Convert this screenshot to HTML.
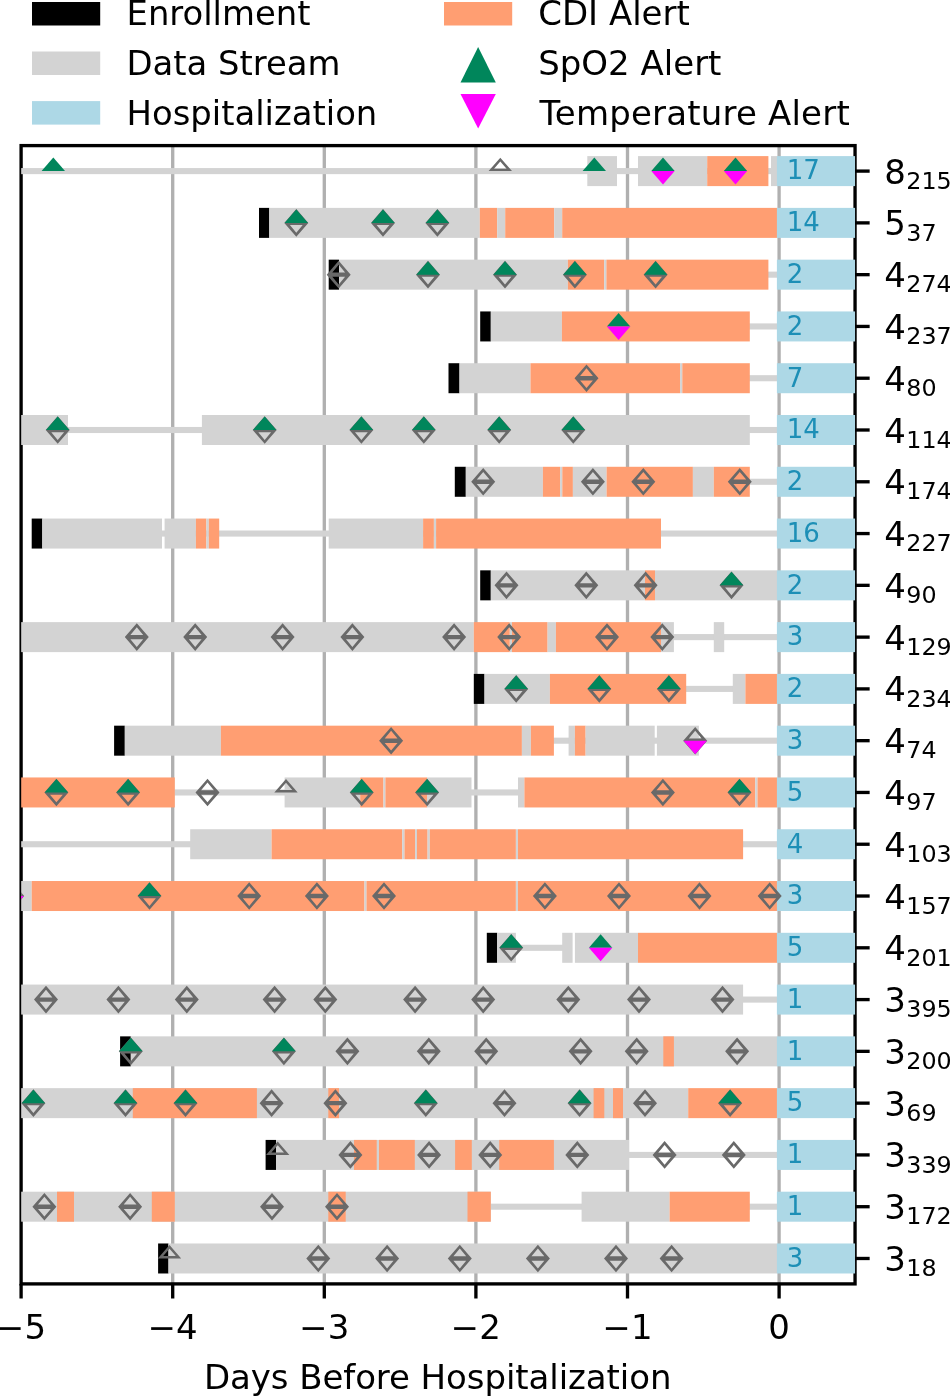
<!DOCTYPE html>
<html lang="en"><head><meta charset="utf-8"><title>Days Before Hospitalization</title>
<style>html,body{margin:0;padding:0;background:#fff}svg{display:block}text{font-family:"DejaVu Sans","Liberation Sans",sans-serif;fill:#000}</style>
</head><body>
<svg width="950" height="1396" viewBox="0 0 950 1396">
<rect width="950" height="1396" fill="#fff"/>
<defs>
<clipPath id="ax"><rect x="21.1" y="145.6" width="833.95" height="1138.3"/></clipPath>
<path id="mD" fill="#696969" fill-rule="evenodd" d="M-12 0L0 -13.8L12 0L0 13.8ZM-6.4 -2.2L0 -9.9L6.4 -2.2ZM-6.4 2.2L0 9.9L6.4 2.2Z"/>
<path id="mH" fill="#696969" fill-rule="evenodd" d="M-11.7 0L0 -13.4L11.7 0ZM-6.3 -2.4L0 -9.7L6.3 -2.4Z"/>
<path id="mG" fill="#00865b" d="M-11.7 0L0 -13.5L11.7 0Z"/>
<path id="mM" fill="#ff00ff" d="M-11.7 0L0 13.5L11.7 0Z"/>
</defs>
<g stroke="#b0b0b0" stroke-width="3.33">
<line x1="172.7" y1="145.6" x2="172.7" y2="1283.9"/>
<line x1="324.3" y1="145.6" x2="324.3" y2="1283.9"/>
<line x1="475.9" y1="145.6" x2="475.9" y2="1283.9"/>
<line x1="627.5" y1="145.6" x2="627.5" y2="1283.9"/>
<line x1="779.1" y1="145.6" x2="779.1" y2="1283.9"/>
</g>
<rect x="21.1" y="145.6" width="833.95" height="1138.3" fill="none" stroke="#000" stroke-width="3.33"/>
<g clip-path="url(#ax)">
<g>
<rect x="21.1" y="168.05" width="755.9" height="6.1" fill="#d3d3d3"/>
<rect x="587.3" y="156.1" width="29.7" height="30" fill="#d3d3d3"/>
<rect x="638" y="156.1" width="69.2" height="30" fill="#d3d3d3"/>
<rect x="707.2" y="156.1" width="61.2" height="30" fill="#ff9e72"/>
<rect x="771" y="156.1" width="6" height="30" fill="#d3d3d3"/>
<rect x="776.9" y="156.1" width="79.1" height="30" fill="#add8e6"/>
</g>
<g>
<rect x="259" y="207.88" width="10.3" height="30" fill="#000000"/>
<rect x="269.3" y="207.88" width="210.5" height="30" fill="#d3d3d3"/>
<rect x="479.8" y="207.88" width="17.4" height="30" fill="#ff9e72"/>
<rect x="497.2" y="207.88" width="8" height="30" fill="#d3d3d3"/>
<rect x="505.2" y="207.88" width="49" height="30" fill="#ff9e72"/>
<rect x="554.2" y="207.88" width="8" height="30" fill="#d3d3d3"/>
<rect x="562.2" y="207.88" width="214.8" height="30" fill="#ff9e72"/>
<rect x="776.9" y="207.88" width="79.1" height="30" fill="#add8e6"/>
</g>
<g>
<rect x="760" y="271.61" width="17" height="6.1" fill="#d3d3d3"/>
<rect x="328.7" y="259.66" width="10.3" height="30" fill="#000000"/>
<rect x="339" y="259.66" width="228.9" height="30" fill="#d3d3d3"/>
<rect x="567.9" y="259.66" width="36.3" height="30" fill="#ff9e72"/>
<rect x="604.2" y="259.66" width="2.2" height="30" fill="#d3d3d3"/>
<rect x="606.4" y="259.66" width="162" height="30" fill="#ff9e72"/>
<rect x="776.9" y="259.66" width="79.1" height="30" fill="#add8e6"/>
</g>
<g>
<rect x="740" y="323.39" width="37" height="6.1" fill="#d3d3d3"/>
<rect x="480.2" y="311.44" width="10.6" height="30" fill="#000000"/>
<rect x="490.8" y="311.44" width="71.1" height="30" fill="#d3d3d3"/>
<rect x="561.9" y="311.44" width="187.9" height="30" fill="#ff9e72"/>
<rect x="776.9" y="311.44" width="79.1" height="30" fill="#add8e6"/>
</g>
<g>
<rect x="740" y="375.17" width="37" height="6.1" fill="#d3d3d3"/>
<rect x="448.5" y="363.22" width="11" height="30" fill="#000000"/>
<rect x="459.5" y="363.22" width="71" height="30" fill="#d3d3d3"/>
<rect x="530.5" y="363.22" width="149.6" height="30" fill="#ff9e72"/>
<rect x="680.1" y="363.22" width="2.2" height="30" fill="#d3d3d3"/>
<rect x="682.3" y="363.22" width="67.5" height="30" fill="#ff9e72"/>
<rect x="776.9" y="363.22" width="79.1" height="30" fill="#add8e6"/>
</g>
<g>
<rect x="60" y="426.95" width="150" height="6.1" fill="#d3d3d3"/>
<rect x="740" y="426.95" width="37" height="6.1" fill="#d3d3d3"/>
<rect x="21.1" y="415" width="46.9" height="30" fill="#d3d3d3"/>
<rect x="201.9" y="415" width="547.9" height="30" fill="#d3d3d3"/>
<rect x="776.9" y="415" width="79.1" height="30" fill="#add8e6"/>
</g>
<g>
<rect x="740" y="478.73" width="37" height="6.1" fill="#d3d3d3"/>
<rect x="454.8" y="466.78" width="11" height="30" fill="#000000"/>
<rect x="465.8" y="466.78" width="77.1" height="30" fill="#d3d3d3"/>
<rect x="542.9" y="466.78" width="17.2" height="30" fill="#ff9e72"/>
<rect x="560.1" y="466.78" width="2.2" height="30" fill="#d3d3d3"/>
<rect x="562.3" y="466.78" width="10.6" height="30" fill="#ff9e72"/>
<rect x="572.9" y="466.78" width="33.7" height="30" fill="#d3d3d3"/>
<rect x="606.6" y="466.78" width="86.3" height="30" fill="#ff9e72"/>
<rect x="692.9" y="466.78" width="20.9" height="30" fill="#d3d3d3"/>
<rect x="713.8" y="466.78" width="36" height="30" fill="#ff9e72"/>
<rect x="776.9" y="466.78" width="79.1" height="30" fill="#add8e6"/>
</g>
<g>
<rect x="100" y="530.51" width="677" height="6.1" fill="#d3d3d3"/>
<rect x="31.7" y="518.56" width="10.6" height="30" fill="#000000"/>
<rect x="42.3" y="518.56" width="119.7" height="30" fill="#d3d3d3"/>
<rect x="164.6" y="518.56" width="31.3" height="30" fill="#d3d3d3"/>
<rect x="195.9" y="518.56" width="10.5" height="30" fill="#ff9e72"/>
<rect x="206.4" y="518.56" width="2.4" height="30" fill="#d3d3d3"/>
<rect x="208.8" y="518.56" width="10.4" height="30" fill="#ff9e72"/>
<rect x="328.7" y="518.56" width="94.4" height="30" fill="#d3d3d3"/>
<rect x="423.1" y="518.56" width="10.8" height="30" fill="#ff9e72"/>
<rect x="433.9" y="518.56" width="2.2" height="30" fill="#d3d3d3"/>
<rect x="436.1" y="518.56" width="224.9" height="30" fill="#ff9e72"/>
<rect x="776.9" y="518.56" width="79.1" height="30" fill="#add8e6"/>
</g>
<g>
<rect x="480.2" y="570.34" width="10.6" height="30" fill="#000000"/>
<rect x="490.8" y="570.34" width="154.2" height="30" fill="#d3d3d3"/>
<rect x="645" y="570.34" width="10" height="30" fill="#ff9e72"/>
<rect x="655" y="570.34" width="122" height="30" fill="#d3d3d3"/>
<rect x="776.9" y="570.34" width="79.1" height="30" fill="#add8e6"/>
</g>
<g>
<rect x="660" y="634.07" width="117" height="6.1" fill="#d3d3d3"/>
<rect x="21.1" y="622.12" width="452.7" height="30" fill="#d3d3d3"/>
<rect x="473.8" y="622.12" width="36" height="30" fill="#ff9e72"/>
<rect x="509.8" y="622.12" width="2.2" height="30" fill="#d3d3d3"/>
<rect x="512" y="622.12" width="35.6" height="30" fill="#ff9e72"/>
<rect x="547.6" y="622.12" width="8.3" height="30" fill="#d3d3d3"/>
<rect x="555.9" y="622.12" width="105.1" height="30" fill="#ff9e72"/>
<rect x="661" y="622.12" width="12.9" height="30" fill="#d3d3d3"/>
<rect x="713.8" y="622.12" width="10.4" height="30" fill="#d3d3d3"/>
<rect x="776.9" y="622.12" width="79.1" height="30" fill="#add8e6"/>
</g>
<g>
<rect x="680" y="685.85" width="60" height="6.1" fill="#d3d3d3"/>
<rect x="473.8" y="673.9" width="10.7" height="30" fill="#000000"/>
<rect x="484.5" y="673.9" width="65.4" height="30" fill="#d3d3d3"/>
<rect x="549.9" y="673.9" width="136.3" height="30" fill="#ff9e72"/>
<rect x="732.8" y="673.9" width="12.6" height="30" fill="#d3d3d3"/>
<rect x="745.4" y="673.9" width="31.6" height="30" fill="#ff9e72"/>
<rect x="776.9" y="673.9" width="79.1" height="30" fill="#add8e6"/>
</g>
<g>
<rect x="550" y="737.63" width="227" height="6.1" fill="#d3d3d3"/>
<rect x="114.1" y="725.68" width="10.7" height="30" fill="#000000"/>
<rect x="124.8" y="725.68" width="96.1" height="30" fill="#d3d3d3"/>
<rect x="220.9" y="725.68" width="301" height="30" fill="#ff9e72"/>
<rect x="521.9" y="725.68" width="9" height="30" fill="#d3d3d3"/>
<rect x="530.9" y="725.68" width="23" height="30" fill="#ff9e72"/>
<rect x="568.6" y="725.68" width="6.3" height="30" fill="#d3d3d3"/>
<rect x="574.9" y="725.68" width="10.7" height="30" fill="#ff9e72"/>
<rect x="585.6" y="725.68" width="69.1" height="30" fill="#d3d3d3"/>
<rect x="656.9" y="725.68" width="42" height="30" fill="#d3d3d3"/>
<rect x="776.9" y="725.68" width="79.1" height="30" fill="#add8e6"/>
</g>
<g>
<rect x="170" y="789.41" width="120" height="6.1" fill="#d3d3d3"/>
<rect x="465" y="789.41" width="55" height="6.1" fill="#d3d3d3"/>
<rect x="21.1" y="777.46" width="153.7" height="30" fill="#ff9e72"/>
<rect x="284.6" y="777.46" width="75.6" height="30" fill="#d3d3d3"/>
<rect x="360.2" y="777.46" width="23.3" height="30" fill="#ff9e72"/>
<rect x="383.5" y="777.46" width="1.9" height="30" fill="#d3d3d3"/>
<rect x="385.4" y="777.46" width="41.6" height="30" fill="#ff9e72"/>
<rect x="427" y="777.46" width="44.5" height="30" fill="#d3d3d3"/>
<rect x="518" y="777.46" width="6.4" height="30" fill="#d3d3d3"/>
<rect x="524.4" y="777.46" width="230.9" height="30" fill="#ff9e72"/>
<rect x="755.3" y="777.46" width="2.2" height="30" fill="#d3d3d3"/>
<rect x="757.5" y="777.46" width="19.5" height="30" fill="#ff9e72"/>
<rect x="776.9" y="777.46" width="79.1" height="30" fill="#add8e6"/>
</g>
<g>
<rect x="21.1" y="841.19" width="178.9" height="6.1" fill="#d3d3d3"/>
<rect x="740" y="841.19" width="37" height="6.1" fill="#d3d3d3"/>
<rect x="190.2" y="829.24" width="81.4" height="30" fill="#d3d3d3"/>
<rect x="271.6" y="829.24" width="130.6" height="30" fill="#ff9e72"/>
<rect x="402.2" y="829.24" width="2.3" height="30" fill="#d3d3d3"/>
<rect x="404.5" y="829.24" width="10.6" height="30" fill="#ff9e72"/>
<rect x="415.1" y="829.24" width="1.9" height="30" fill="#d3d3d3"/>
<rect x="417" y="829.24" width="10.6" height="30" fill="#ff9e72"/>
<rect x="427.6" y="829.24" width="2.2" height="30" fill="#d3d3d3"/>
<rect x="429.8" y="829.24" width="86.1" height="30" fill="#ff9e72"/>
<rect x="515.9" y="829.24" width="2.1" height="30" fill="#d3d3d3"/>
<rect x="518" y="829.24" width="225.1" height="30" fill="#ff9e72"/>
<rect x="776.9" y="829.24" width="79.1" height="30" fill="#add8e6"/>
</g>
<g>
<rect x="21.1" y="881.02" width="10.6" height="30" fill="#d3d3d3"/>
<rect x="31.7" y="881.02" width="332.8" height="30" fill="#ff9e72"/>
<rect x="364.5" y="881.02" width="2" height="30" fill="#d3d3d3"/>
<rect x="366.5" y="881.02" width="149.4" height="30" fill="#ff9e72"/>
<rect x="515.9" y="881.02" width="2.1" height="30" fill="#d3d3d3"/>
<rect x="518" y="881.02" width="259" height="30" fill="#ff9e72"/>
<rect x="776.9" y="881.02" width="79.1" height="30" fill="#add8e6"/>
</g>
<g>
<rect x="510" y="944.75" width="60" height="6.1" fill="#d3d3d3"/>
<rect x="486.8" y="932.8" width="10.4" height="30" fill="#000000"/>
<rect x="497.2" y="932.8" width="18.7" height="30" fill="#d3d3d3"/>
<rect x="562.2" y="932.8" width="10.4" height="30" fill="#d3d3d3"/>
<rect x="574.9" y="932.8" width="63.1" height="30" fill="#d3d3d3"/>
<rect x="638" y="932.8" width="139" height="30" fill="#ff9e72"/>
<rect x="776.9" y="932.8" width="79.1" height="30" fill="#add8e6"/>
</g>
<g>
<rect x="740" y="996.53" width="37" height="6.1" fill="#d3d3d3"/>
<rect x="21.1" y="984.58" width="722" height="30" fill="#d3d3d3"/>
<rect x="776.9" y="984.58" width="79.1" height="30" fill="#add8e6"/>
</g>
<g>
<rect x="120.1" y="1036.36" width="10.7" height="30" fill="#000000"/>
<rect x="130.8" y="1036.36" width="646.2" height="30" fill="#d3d3d3"/>
<rect x="663.3" y="1036.36" width="10.6" height="30" fill="#ff9e72"/>
<rect x="776.9" y="1036.36" width="79.1" height="30" fill="#add8e6"/>
</g>
<g>
<rect x="21.1" y="1088.14" width="667.1" height="30" fill="#d3d3d3"/>
<rect x="132.8" y="1088.14" width="124.1" height="30" fill="#ff9e72"/>
<rect x="328.3" y="1088.14" width="10.7" height="30" fill="#ff9e72"/>
<rect x="593.6" y="1088.14" width="10.7" height="30" fill="#ff9e72"/>
<rect x="613" y="1088.14" width="10" height="30" fill="#ff9e72"/>
<rect x="688.2" y="1088.14" width="88.8" height="30" fill="#ff9e72"/>
<rect x="776.9" y="1088.14" width="79.1" height="30" fill="#add8e6"/>
</g>
<g>
<rect x="620" y="1151.87" width="157" height="6.1" fill="#d3d3d3"/>
<rect x="265.6" y="1139.92" width="10.4" height="30" fill="#000000"/>
<rect x="276" y="1139.92" width="353" height="30" fill="#d3d3d3"/>
<rect x="354" y="1139.92" width="22.7" height="30" fill="#ff9e72"/>
<rect x="379" y="1139.92" width="35.8" height="30" fill="#ff9e72"/>
<rect x="455.1" y="1139.92" width="16.7" height="30" fill="#ff9e72"/>
<rect x="499.2" y="1139.92" width="54.7" height="30" fill="#ff9e72"/>
<rect x="776.9" y="1139.92" width="79.1" height="30" fill="#add8e6"/>
</g>
<g>
<rect x="485" y="1203.65" width="105" height="6.1" fill="#d3d3d3"/>
<rect x="740" y="1203.65" width="37" height="6.1" fill="#d3d3d3"/>
<rect x="21.1" y="1191.7" width="469.7" height="30" fill="#d3d3d3"/>
<rect x="57" y="1191.7" width="17" height="30" fill="#ff9e72"/>
<rect x="151.8" y="1191.7" width="23" height="30" fill="#ff9e72"/>
<rect x="328.3" y="1191.7" width="17.4" height="30" fill="#ff9e72"/>
<rect x="467.5" y="1191.7" width="23.3" height="30" fill="#ff9e72"/>
<rect x="581.6" y="1191.7" width="88" height="30" fill="#d3d3d3"/>
<rect x="669.6" y="1191.7" width="80.2" height="30" fill="#ff9e72"/>
<rect x="776.9" y="1191.7" width="79.1" height="30" fill="#add8e6"/>
</g>
<g>
<rect x="158.1" y="1243.48" width="10.4" height="30" fill="#000000"/>
<rect x="168.5" y="1243.48" width="608.5" height="30" fill="#d3d3d3"/>
<rect x="776.9" y="1243.48" width="79.1" height="30" fill="#add8e6"/>
</g>
<use href="#mG" x="53.3" y="171.1"/>
<use href="#mH" x="500.3" y="171.1"/>
<use href="#mG" x="594.3" y="171.1"/>
<use href="#mG" x="663" y="171.1"/>
<use href="#mM" x="663" y="171.1"/>
<use href="#mG" x="735.5" y="171.1"/>
<use href="#mM" x="735.5" y="171.1"/>
<use href="#mD" x="296.3" y="222.88"/>
<use href="#mG" x="296.3" y="222.88"/>
<use href="#mD" x="383" y="222.88"/>
<use href="#mG" x="383" y="222.88"/>
<use href="#mD" x="437.4" y="222.88"/>
<use href="#mG" x="437.4" y="222.88"/>
<use href="#mD" x="338.7" y="274.66"/>
<use href="#mD" x="428" y="274.66"/>
<use href="#mG" x="428" y="274.66"/>
<use href="#mD" x="505" y="274.66"/>
<use href="#mG" x="505" y="274.66"/>
<use href="#mD" x="574.9" y="274.66"/>
<use href="#mG" x="574.9" y="274.66"/>
<use href="#mD" x="655.6" y="274.66"/>
<use href="#mG" x="655.6" y="274.66"/>
<use href="#mG" x="618.6" y="326.44"/>
<use href="#mM" x="618.6" y="326.44"/>
<use href="#mD" x="586.5" y="378.22"/>
<use href="#mD" x="57.7" y="430"/>
<use href="#mG" x="57.7" y="430"/>
<use href="#mD" x="264.7" y="430"/>
<use href="#mG" x="264.7" y="430"/>
<use href="#mD" x="361.4" y="430"/>
<use href="#mG" x="361.4" y="430"/>
<use href="#mD" x="423.8" y="430"/>
<use href="#mG" x="423.8" y="430"/>
<use href="#mD" x="499.2" y="430"/>
<use href="#mG" x="499.2" y="430"/>
<use href="#mD" x="573.3" y="430"/>
<use href="#mG" x="573.3" y="430"/>
<use href="#mD" x="483.2" y="481.78"/>
<use href="#mD" x="592.9" y="481.78"/>
<use href="#mD" x="643.3" y="481.78"/>
<use href="#mD" x="739.8" y="481.78"/>
<use href="#mD" x="506.5" y="585.34"/>
<use href="#mD" x="586.3" y="585.34"/>
<use href="#mD" x="645.6" y="585.34"/>
<use href="#mD" x="731.5" y="585.34"/>
<use href="#mG" x="731.5" y="585.34"/>
<use href="#mD" x="136.8" y="637.12"/>
<use href="#mD" x="195.2" y="637.12"/>
<use href="#mD" x="282.6" y="637.12"/>
<use href="#mD" x="352.4" y="637.12"/>
<use href="#mD" x="454.1" y="637.12"/>
<use href="#mD" x="509.2" y="637.12"/>
<use href="#mD" x="607" y="637.12"/>
<use href="#mD" x="662.3" y="637.12"/>
<use href="#mD" x="516.2" y="688.9"/>
<use href="#mG" x="516.2" y="688.9"/>
<use href="#mD" x="599.3" y="688.9"/>
<use href="#mG" x="599.3" y="688.9"/>
<use href="#mD" x="668.9" y="688.9"/>
<use href="#mG" x="668.9" y="688.9"/>
<use href="#mD" x="391.1" y="740.68"/>
<use href="#mD" x="695.2" y="740.68"/>
<use href="#mM" x="695.2" y="740.68"/>
<use href="#mD" x="56.4" y="792.46"/>
<use href="#mG" x="56.4" y="792.46"/>
<use href="#mD" x="128.1" y="792.46"/>
<use href="#mG" x="128.1" y="792.46"/>
<use href="#mD" x="207.5" y="792.46"/>
<use href="#mH" x="286" y="792.46"/>
<use href="#mD" x="361.7" y="792.46"/>
<use href="#mG" x="361.7" y="792.46"/>
<use href="#mD" x="427.1" y="792.46"/>
<use href="#mG" x="427.1" y="792.46"/>
<use href="#mD" x="662.9" y="792.46"/>
<use href="#mD" x="739.5" y="792.46"/>
<use href="#mG" x="739.5" y="792.46"/>
<use href="#mD" x="12.2" y="896.02"/>
<use href="#mM" x="12.2" y="896.02"/>
<use href="#mD" x="149.5" y="896.02"/>
<use href="#mG" x="149.5" y="896.02"/>
<use href="#mD" x="249.2" y="896.02"/>
<use href="#mD" x="316.9" y="896.02"/>
<use href="#mD" x="384" y="896.02"/>
<use href="#mD" x="544.9" y="896.02"/>
<use href="#mD" x="619" y="896.02"/>
<use href="#mD" x="699.5" y="896.02"/>
<use href="#mD" x="769.7" y="896.02"/>
<use href="#mD" x="511.2" y="947.8"/>
<use href="#mG" x="511.2" y="947.8"/>
<use href="#mG" x="600.6" y="947.8"/>
<use href="#mM" x="600.6" y="947.8"/>
<use href="#mD" x="46" y="999.58"/>
<use href="#mD" x="118.4" y="999.58"/>
<use href="#mD" x="186.8" y="999.58"/>
<use href="#mD" x="274.6" y="999.58"/>
<use href="#mD" x="325.3" y="999.58"/>
<use href="#mD" x="415.1" y="999.58"/>
<use href="#mD" x="483.2" y="999.58"/>
<use href="#mD" x="568.3" y="999.58"/>
<use href="#mD" x="639" y="999.58"/>
<use href="#mD" x="722.5" y="999.58"/>
<use href="#mD" x="130.8" y="1051.36"/>
<use href="#mG" x="130.8" y="1051.36"/>
<use href="#mD" x="283.9" y="1051.36"/>
<use href="#mG" x="283.9" y="1051.36"/>
<use href="#mD" x="347.4" y="1051.36"/>
<use href="#mD" x="428.8" y="1051.36"/>
<use href="#mD" x="486.2" y="1051.36"/>
<use href="#mD" x="580.6" y="1051.36"/>
<use href="#mD" x="636.7" y="1051.36"/>
<use href="#mD" x="737.1" y="1051.36"/>
<use href="#mD" x="33.4" y="1103.14"/>
<use href="#mG" x="33.4" y="1103.14"/>
<use href="#mD" x="125.5" y="1103.14"/>
<use href="#mG" x="125.5" y="1103.14"/>
<use href="#mD" x="185.5" y="1103.14"/>
<use href="#mG" x="185.5" y="1103.14"/>
<use href="#mD" x="271.6" y="1103.14"/>
<use href="#mD" x="335.4" y="1103.14"/>
<use href="#mD" x="425.8" y="1103.14"/>
<use href="#mG" x="425.8" y="1103.14"/>
<use href="#mD" x="504.5" y="1103.14"/>
<use href="#mD" x="579.6" y="1103.14"/>
<use href="#mG" x="579.6" y="1103.14"/>
<use href="#mD" x="645" y="1103.14"/>
<use href="#mD" x="730.1" y="1103.14"/>
<use href="#mG" x="730.1" y="1103.14"/>
<use href="#mH" x="277.7" y="1154.92"/>
<use href="#mD" x="350.4" y="1154.92"/>
<use href="#mD" x="429.1" y="1154.92"/>
<use href="#mD" x="490.2" y="1154.92"/>
<use href="#mD" x="577.3" y="1154.92"/>
<use href="#mD" x="664.6" y="1154.92"/>
<use href="#mD" x="733.8" y="1154.92"/>
<use href="#mD" x="44.4" y="1206.7"/>
<use href="#mD" x="130.1" y="1206.7"/>
<use href="#mD" x="272" y="1206.7"/>
<use href="#mD" x="337" y="1206.7"/>
<use href="#mH" x="169.5" y="1258.48"/>
<use href="#mD" x="318.3" y="1258.48"/>
<use href="#mD" x="387.1" y="1258.48"/>
<use href="#mD" x="459.8" y="1258.48"/>
<use href="#mD" x="537.9" y="1258.48"/>
<use href="#mD" x="616" y="1258.48"/>
<use href="#mD" x="671.6" y="1258.48"/>
</g>
<g font-size="26" style="fill:#1d8fb6">
<text transform="translate(786.7 179.4) scale(1.0 1)" style="fill:#1d8fb6">17</text>
<text transform="translate(786.7 231.18) scale(1.0 1)" style="fill:#1d8fb6">14</text>
<text transform="translate(786.7 282.96) scale(1.0 1)" style="fill:#1d8fb6">2</text>
<text transform="translate(786.7 334.74) scale(1.0 1)" style="fill:#1d8fb6">2</text>
<text transform="translate(786.7 386.52) scale(1.0 1)" style="fill:#1d8fb6">7</text>
<text transform="translate(786.7 438.3) scale(1.0 1)" style="fill:#1d8fb6">14</text>
<text transform="translate(786.7 490.08) scale(1.0 1)" style="fill:#1d8fb6">2</text>
<text transform="translate(786.7 541.86) scale(1.0 1)" style="fill:#1d8fb6">16</text>
<text transform="translate(786.7 593.64) scale(1.0 1)" style="fill:#1d8fb6">2</text>
<text transform="translate(786.7 645.42) scale(1.0 1)" style="fill:#1d8fb6">3</text>
<text transform="translate(786.7 697.2) scale(1.0 1)" style="fill:#1d8fb6">2</text>
<text transform="translate(786.7 748.98) scale(1.0 1)" style="fill:#1d8fb6">3</text>
<text transform="translate(786.7 800.76) scale(1.0 1)" style="fill:#1d8fb6">5</text>
<text transform="translate(786.7 852.54) scale(1.0 1)" style="fill:#1d8fb6">4</text>
<text transform="translate(786.7 904.32) scale(1.0 1)" style="fill:#1d8fb6">3</text>
<text transform="translate(786.7 956.1) scale(1.0 1)" style="fill:#1d8fb6">5</text>
<text transform="translate(786.7 1007.88) scale(1.0 1)" style="fill:#1d8fb6">1</text>
<text transform="translate(786.7 1059.66) scale(1.0 1)" style="fill:#1d8fb6">1</text>
<text transform="translate(786.7 1111.44) scale(1.0 1)" style="fill:#1d8fb6">5</text>
<text transform="translate(786.7 1163.22) scale(1.0 1)" style="fill:#1d8fb6">1</text>
<text transform="translate(786.7 1215) scale(1.0 1)" style="fill:#1d8fb6">1</text>
<text transform="translate(786.7 1266.78) scale(1.0 1)" style="fill:#1d8fb6">3</text>
</g>
<g stroke="#000" stroke-width="3.33">
<line x1="21.1" y1="1283.9" x2="21.1" y2="1298.5"/>
<line x1="172.7" y1="1283.9" x2="172.7" y2="1298.5"/>
<line x1="324.3" y1="1283.9" x2="324.3" y2="1298.5"/>
<line x1="475.9" y1="1283.9" x2="475.9" y2="1298.5"/>
<line x1="627.5" y1="1283.9" x2="627.5" y2="1298.5"/>
<line x1="779.1" y1="1283.9" x2="779.1" y2="1298.5"/>
<line x1="855.05" y1="171.1" x2="869.65" y2="171.1"/>
<line x1="855.05" y1="222.88" x2="869.65" y2="222.88"/>
<line x1="855.05" y1="274.66" x2="869.65" y2="274.66"/>
<line x1="855.05" y1="326.44" x2="869.65" y2="326.44"/>
<line x1="855.05" y1="378.22" x2="869.65" y2="378.22"/>
<line x1="855.05" y1="430" x2="869.65" y2="430"/>
<line x1="855.05" y1="481.78" x2="869.65" y2="481.78"/>
<line x1="855.05" y1="533.56" x2="869.65" y2="533.56"/>
<line x1="855.05" y1="585.34" x2="869.65" y2="585.34"/>
<line x1="855.05" y1="637.12" x2="869.65" y2="637.12"/>
<line x1="855.05" y1="688.9" x2="869.65" y2="688.9"/>
<line x1="855.05" y1="740.68" x2="869.65" y2="740.68"/>
<line x1="855.05" y1="792.46" x2="869.65" y2="792.46"/>
<line x1="855.05" y1="844.24" x2="869.65" y2="844.24"/>
<line x1="855.05" y1="896.02" x2="869.65" y2="896.02"/>
<line x1="855.05" y1="947.8" x2="869.65" y2="947.8"/>
<line x1="855.05" y1="999.58" x2="869.65" y2="999.58"/>
<line x1="855.05" y1="1051.36" x2="869.65" y2="1051.36"/>
<line x1="855.05" y1="1103.14" x2="869.65" y2="1103.14"/>
<line x1="855.05" y1="1154.92" x2="869.65" y2="1154.92"/>
<line x1="855.05" y1="1206.7" x2="869.65" y2="1206.7"/>
<line x1="855.05" y1="1258.48" x2="869.65" y2="1258.48"/>
</g>
<g font-size="33.33" text-anchor="middle">
<text transform="translate(21.1 1339.3) scale(1.02 1)">−5</text>
<text transform="translate(172.7 1339.3) scale(1.02 1)">−4</text>
<text transform="translate(324.3 1339.3) scale(1.02 1)">−3</text>
<text transform="translate(475.9 1339.3) scale(1.02 1)">−2</text>
<text transform="translate(627.5 1339.3) scale(1.02 1)">−1</text>
<text transform="translate(779.1 1339.3) scale(1.02 1)">0</text>
</g>
<text transform="translate(203.9 1388.8) scale(1.02 1)" font-size="33.33" letter-spacing="-0.07">Days Before Hospitalization</text>
<text transform="translate(884.3 183.6) scale(1.0 1)" font-size="34">8<tspan font-size="23.8" dx="0.3" dy="5.2">215</tspan></text>
<text transform="translate(884.3 235.38) scale(1.0 1)" font-size="34">5<tspan font-size="23.8" dx="0.3" dy="5.2">37</tspan></text>
<text transform="translate(884.3 287.16) scale(1.0 1)" font-size="34">4<tspan font-size="23.8" dx="0.3" dy="5.2">274</tspan></text>
<text transform="translate(884.3 338.94) scale(1.0 1)" font-size="34">4<tspan font-size="23.8" dx="0.3" dy="5.2">237</tspan></text>
<text transform="translate(884.3 390.72) scale(1.0 1)" font-size="34">4<tspan font-size="23.8" dx="0.3" dy="5.2">80</tspan></text>
<text transform="translate(884.3 442.5) scale(1.0 1)" font-size="34">4<tspan font-size="23.8" dx="0.3" dy="5.2">114</tspan></text>
<text transform="translate(884.3 494.28) scale(1.0 1)" font-size="34">4<tspan font-size="23.8" dx="0.3" dy="5.2">174</tspan></text>
<text transform="translate(884.3 546.06) scale(1.0 1)" font-size="34">4<tspan font-size="23.8" dx="0.3" dy="5.2">227</tspan></text>
<text transform="translate(884.3 597.84) scale(1.0 1)" font-size="34">4<tspan font-size="23.8" dx="0.3" dy="5.2">90</tspan></text>
<text transform="translate(884.3 649.62) scale(1.0 1)" font-size="34">4<tspan font-size="23.8" dx="0.3" dy="5.2">129</tspan></text>
<text transform="translate(884.3 701.4) scale(1.0 1)" font-size="34">4<tspan font-size="23.8" dx="0.3" dy="5.2">234</tspan></text>
<text transform="translate(884.3 753.18) scale(1.0 1)" font-size="34">4<tspan font-size="23.8" dx="0.3" dy="5.2">74</tspan></text>
<text transform="translate(884.3 804.96) scale(1.0 1)" font-size="34">4<tspan font-size="23.8" dx="0.3" dy="5.2">97</tspan></text>
<text transform="translate(884.3 856.74) scale(1.0 1)" font-size="34">4<tspan font-size="23.8" dx="0.3" dy="5.2">103</tspan></text>
<text transform="translate(884.3 908.52) scale(1.0 1)" font-size="34">4<tspan font-size="23.8" dx="0.3" dy="5.2">157</tspan></text>
<text transform="translate(884.3 960.3) scale(1.0 1)" font-size="34">4<tspan font-size="23.8" dx="0.3" dy="5.2">201</tspan></text>
<text transform="translate(884.3 1012.08) scale(1.0 1)" font-size="34">3<tspan font-size="23.8" dx="0.3" dy="5.2">395</tspan></text>
<text transform="translate(884.3 1063.86) scale(1.0 1)" font-size="34">3<tspan font-size="23.8" dx="0.3" dy="5.2">200</tspan></text>
<text transform="translate(884.3 1115.64) scale(1.0 1)" font-size="34">3<tspan font-size="23.8" dx="0.3" dy="5.2">69</tspan></text>
<text transform="translate(884.3 1167.42) scale(1.0 1)" font-size="34">3<tspan font-size="23.8" dx="0.3" dy="5.2">339</tspan></text>
<text transform="translate(884.3 1219.2) scale(1.0 1)" font-size="34">3<tspan font-size="23.8" dx="0.3" dy="5.2">172</tspan></text>
<text transform="translate(884.3 1270.98) scale(1.0 1)" font-size="34">3<tspan font-size="23.8" dx="0.3" dy="5.2">18</tspan></text>
<rect x="32" y="2" width="68.2" height="23.5" fill="#000000"/>
<rect x="32" y="51.5" width="68.2" height="23.5" fill="#d3d3d3"/>
<rect x="32" y="101.1" width="68.2" height="23.5" fill="#add8e6"/>
<rect x="444" y="2" width="68.2" height="23.5" fill="#ff9e72"/>
<path fill="#00865b" d="M460.5 82.5L478.15 47.1L495.8 82.5Z"/>
<path fill="#ff00ff" d="M460.5 94L478.15 128.4L495.8 94Z"/>
<g font-size="33.33">
<text transform="translate(126.5 25.4) scale(1.016 1)">Enrollment</text>
<text transform="translate(126.5 75) scale(1.016 1)">Data Stream</text>
<text transform="translate(126.5 124.7) scale(1.016 1)">Hospitalization</text>
<text transform="translate(538.2 25.4) scale(1.02 1)">CDI Alert</text>
<text transform="translate(538.2 75) scale(1.02 1)">SpO2 Alert</text>
<text transform="translate(539.6 124.7) scale(1.02 1)" letter-spacing="0.19">Temperature Alert</text>
</g>
</svg>
</body></html>
